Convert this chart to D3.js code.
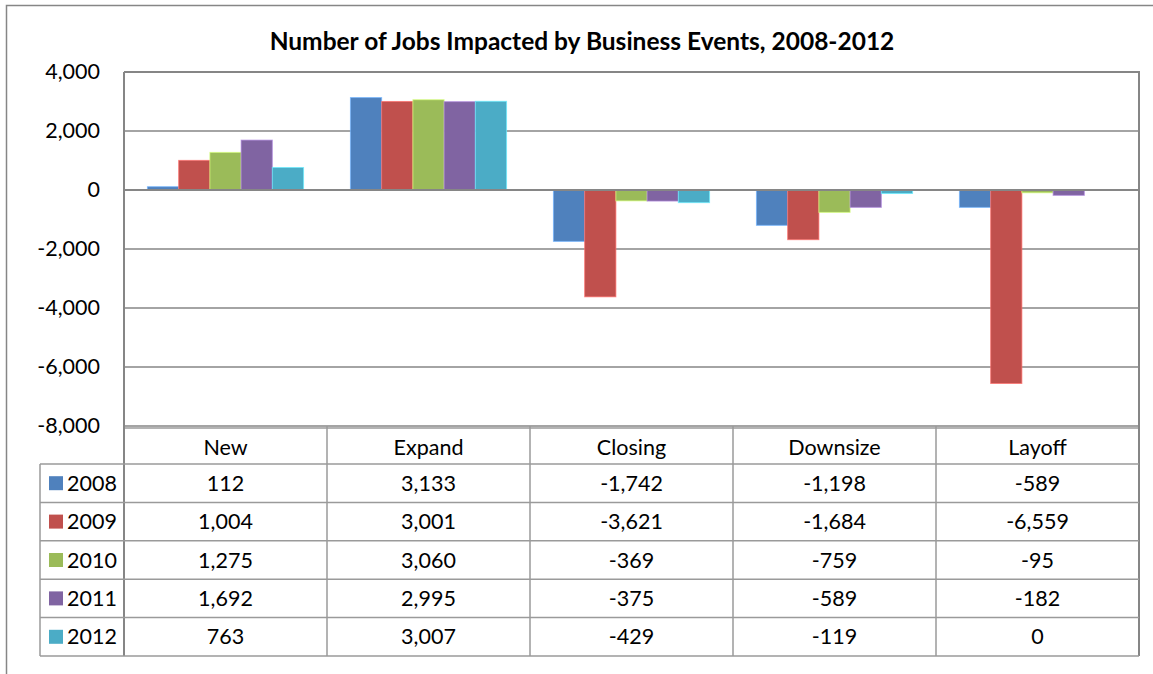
<!DOCTYPE html>
<html>
<head>
<meta charset="utf-8">
<script src="https://cdn.jsdelivr.net/npm/d3@7"></script>
<style>
html,body{margin:0;padding:0;background:#fff;}
svg{display:block;}
text{font-family:Lato,"Open Sans",sans-serif;fill:#000;}
</style>
</head>
<body>
<svg id="chart" width="1153" height="674"></svg>
<script>
const title = "Number of Jobs Impacted by Business Events, 2008-2012";
const categories = ["New", "Expand", "Closing", "Downsize", "Layoff"];
const years = ["2008", "2009", "2010", "2011", "2012"];
const v2008 = [112, 3133, -1742, -1198, -589];
const v2009 = [1004, 3001, -3621, -1684, -6559];
const v2010 = [1275, 3060, -369, -759, -95];
const v2011 = [1692, 2995, -375, -589, -182];
const v2012 = [763, 3007, -429, -119, 0];
const yTicks = [4000, 2000, 0, -2000, -4000, -6000, -8000];
const colors = ["#4F81BD", "#C0504D", "#9BBB59", "#8064A2", "#4BACC6"];

const seriesValues = [v2008, v2009, v2010, v2011, v2012];
const series = years.map((yr, i) => ({year: yr, color: colors[i], values: seriesValues[i]}));

const svg = d3.select("#chart");
const fmt = d3.formatLocale({decimal: ".", thousands: ",", grouping: [3], currency: ["$", ""], minus: "-"}).format(",");

const L = 124, R = 1139, T = 72, B = 426;
const tableLeft = 40, rowH = 38.4, headerBottom = 464;
const gridColor = "#868686", tableColor = "#9a9a9a";
const fontSize = 21.5;

// outer chart border
svg.append("path").attr("d", `M6.5,${674}V5.5H1153`).attr("fill", "none").attr("stroke", gridColor).attr("stroke-width", 1.5);

const x = d3.scaleBand().domain(categories).range([L, R]).padding(0);
const xi = d3.scaleBand().domain(years).range([0, x.bandwidth()]).paddingInner(0).paddingOuter(0.75);
const y = d3.scaleLinear().domain([-8000, 4000]).range([B, T]);

// gridlines
svg.append("g").selectAll("line").data(yTicks).join("line")
  .attr("x1", L).attr("x2", R).attr("y1", d => y(d)).attr("y2", d => y(d))
  .attr("stroke", gridColor).attr("stroke-width", 1.5);

// bars
const gBars = svg.append("g");
series.forEach(s => {
  gBars.append("g").selectAll("rect").data(s.values).join("rect")
    .attr("x", (d, i) => x(categories[i]) + xi(s.year))
    .attr("width", xi.bandwidth())
    .attr("y", d => Math.min(y(d), y(0)))
    .attr("height", d => Math.abs(y(d) - y(0)))
    .attr("fill", s.color)
    .attr("stroke", d3.color(s.color).brighter(0.9))
    .attr("stroke-opacity", 0.7)
    .attr("stroke-width", 1);
});

// plot border (top, right) and zero axis
svg.append("line").attr("x1", L).attr("x2", R).attr("y1", y(0)).attr("y2", y(0)).attr("stroke", gridColor).attr("stroke-width", 2);
svg.append("path").attr("d", `M${L},${T}H${R}V${B}`).attr("fill", "none").attr("stroke", gridColor).attr("stroke-width", 2);

// y axis
const yAxis = d3.axisLeft(y).tickValues(yTicks).tickFormat(fmt).tickSize(0).tickPadding(24);
const gy = svg.append("g").attr("transform", `translate(${L},0)`).call(yAxis);
gy.select(".domain").attr("stroke", gridColor).attr("stroke-width", 2).attr("d", `M0,${T}V${headerBottom}`);
gy.selectAll("text").attr("font-size", fontSize).attr("font-family", "Lato").attr("fill", "#000").attr("dy", "0.32em");

// data table
const gT = svg.append("g");
// header row lines
gT.append("line").attr("x1", L).attr("x2", R).attr("y1", B + 2).attr("y2", B + 2).attr("stroke", tableColor).attr("stroke-width", 1.5);
// column separators
const colEdges = categories.map(c => x(c)).concat([R]);
colEdges.forEach((cx, i) => {
  gT.append("line").attr("x1", cx).attr("x2", cx).attr("y1", B).attr("y2", headerBottom + rowH * years.length)
    .attr("stroke", i === 0 || i === colEdges.length - 1 ? gridColor : tableColor).attr("stroke-width", i === 0 || i === colEdges.length - 1 ? 2 : 1.5);
});
// row lines
for (let r = 0; r <= years.length; r++) {
  const yy = headerBottom + r * rowH;
  gT.append("line").attr("x1", tableLeft).attr("x2", R).attr("y1", yy).attr("y2", yy).attr("stroke", tableColor).attr("stroke-width", 1.5);
}
gT.append("line").attr("x1", tableLeft).attr("x2", tableLeft).attr("y1", headerBottom).attr("y2", headerBottom + rowH * years.length)
  .attr("stroke", tableColor).attr("stroke-width", 1.5);

// header labels
gT.append("g").selectAll("text").data(categories).join("text")
  .attr("x", d => x(d) + x.bandwidth() / 2).attr("y", (B + headerBottom) / 2 + 2)
  .attr("text-anchor", "middle").attr("dy", "0.35em").attr("font-size", fontSize).text(d => d);

// rows
series.forEach((s, r) => {
  const cy = headerBottom + r * rowH + rowH / 2;
  gT.append("rect").attr("x", 49).attr("y", cy - 7).attr("width", 14).attr("height", 14).attr("fill", s.color);
  gT.append("text").attr("x", 67).attr("y", cy).attr("dy", "0.35em").attr("font-size", fontSize).text(s.year);
  gT.append("g").selectAll("text").data(s.values).join("text")
    .attr("x", (d, i) => x(categories[i]) + x.bandwidth() / 2).attr("y", cy)
    .attr("text-anchor", "middle").attr("dy", "0.35em").attr("font-size", fontSize).text(d => fmt(d));
});

// title
const t = svg.append("text").attr("x", 582).attr("y", 50).attr("text-anchor", "middle")
  .attr("font-weight", "bold").attr("font-size", 23).text(title);
const len = t.node().getComputedTextLength();
if (len > 0) t.attr("font-size", 23 * 625 / len);
</script>
</body>
</html>
